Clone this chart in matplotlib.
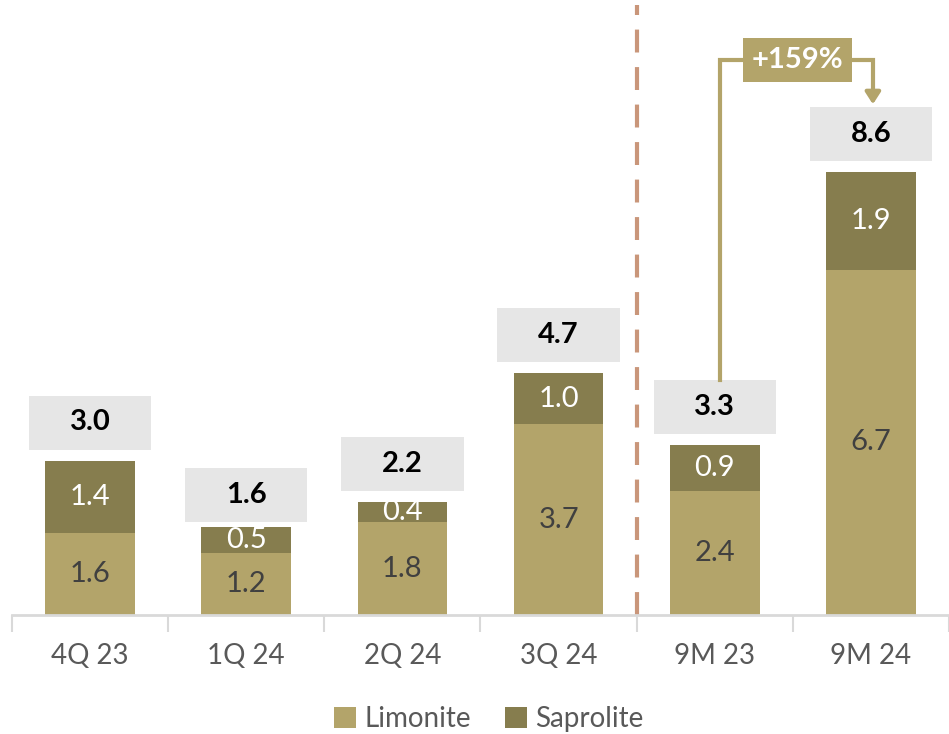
import matplotlib
matplotlib.use("Agg")
import matplotlib.pyplot as plt
from matplotlib.patches import Rectangle
import numpy as np

categories = ["4Q 23", "1Q 24", "2Q 24", "3Q 24", "9M 23", "9M 24"]
limonite = [1.6, 1.2, 1.8, 3.7, 2.4, 6.7]
saprolite = [1.4, 0.5, 0.4, 1.0, 0.9, 1.9]
totals = [3.0, 1.6, 2.2, 4.7, 3.3, 8.6]
growth_label = "+159%"

C_LIM = "#B3A46A"
C_SAP = "#867D4E"
C_BOX = "#E6E6E6"
C_DASH = "#C9967A"

plt.rcParams['font.family'] = ['Lato', 'DejaVu Sans']

W, H = 949, 734
fig = plt.figure(figsize=(W / 100, H / 100), dpi=100)
base_px = 615
ax = fig.add_axes([12 / W, (H - base_px) / H, 1 - 12 / W, base_px / H])
px_per_unit = 51.5
ymax = base_px / px_per_unit
cat_px = 157
xmax = -0.5 + (W - 12) / cat_px
ax.set_xlim(-0.5, xmax)
ax.set_ylim(0, ymax)

x = np.arange(len(categories))
bw = 90 / cat_px
ax.bar(x, limonite, bw, color=C_LIM, label="Limonite", zorder=2)
ax.bar(x, saprolite, bw, bottom=limonite, color=C_SAP, label="Saprolite", zorder=2)

for i in range(len(categories)):
    ax.text(x[i], limonite[i] / 2, f"{limonite[i]:.1f}", ha="center", va="center",
            fontsize=21, color="#404040", zorder=3)
    ax.text(x[i], limonite[i] + saprolite[i] / 2, f"{saprolite[i]:.1f}", ha="center",
            va="center", fontsize=21, color="white", zorder=3)
    bx_w = 123 / cat_px
    bx_h = 54 / px_per_unit
    y0 = totals[i] + 11 / px_per_unit
    ax.add_patch(Rectangle((x[i] - bx_w / 2, y0), bx_w, bx_h, facecolor=C_BOX,
                           edgecolor="none", zorder=2))
    ax.text(x[i], y0 + bx_h / 2, f"{totals[i]:.1f}", ha="center", va="center",
            fontsize=21, fontweight="bold", color="black", zorder=3)

# dashed divider
ax.plot([3.5, 3.5], [0, ymax - 5 / px_per_unit], color=C_DASH, lw=3,
        linestyle=(0, (5.5, 3.5)), zorder=1, clip_on=False)

# growth arrow
i0, i1 = 4, 5
bx_h = 54 / px_per_unit
start_y = totals[i0] + 11 / px_per_unit + bx_h
end_y = totals[i1] + 11 / px_per_unit + bx_h
top_y = (base_px - 60) / px_per_unit
xl = x[i0] + 5 / cat_px
xr = x[i1] + 2 / cat_px
ax.plot([xl, xl, xr, xr], [start_y, top_y, top_y, end_y + 14 / px_per_unit],
        color=C_LIM, lw=3, zorder=2, solid_joinstyle="miter")
ax.annotate("", xy=(xr, end_y), xytext=(xr, end_y + 16 / px_per_unit),
            arrowprops=dict(arrowstyle="-|>,head_length=0.7,head_width=0.45",
                            color=C_LIM, lw=3), zorder=3)
gx = (743 + 860) / 2
gx_d = -0.5 + (gx - 12) / cat_px
ax.text(gx_d, top_y, growth_label, ha="center", va="center", fontsize=21,
        fontweight="bold", color="white", zorder=4,
        bbox=dict(boxstyle="square,pad=0.3", facecolor=C_LIM, edgecolor="none"))

# axes styling
for s in ["top", "right", "left"]:
    ax.spines[s].set_visible(False)
ax.spines["bottom"].set_color("#D9D9D9")
ax.spines["bottom"].set_linewidth(2)
ax.set_yticks([])
ax.set_xticks(x)
ax.set_xticklabels(categories, fontsize=20, color="#595959")
ax.tick_params(axis="x", which="major", length=0, pad=20)
ax.set_xticks(np.arange(-0.5, 5.6, 1.0), minor=True)
ax.tick_params(axis="x", which="minor", length=12, width=1.5, color="#D9D9D9")

fig.legend(loc="lower center", bbox_to_anchor=(0.515, -0.032), ncol=2, frameon=False,
           fontsize=20, handlelength=0.8, handleheight=0.8, handletextpad=0.3,
           columnspacing=1.2, labelcolor="#595959")

fig.savefig("out.png", dpi=100)
